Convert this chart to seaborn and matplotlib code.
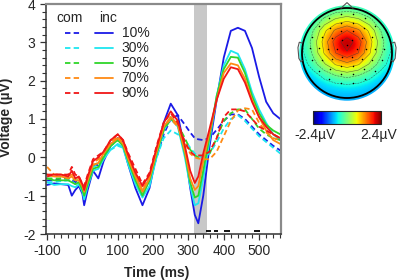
import numpy as np
import pandas as pd
import matplotlib
matplotlib.use("Agg")
import matplotlib.pyplot as plt
import seaborn as sns
from matplotlib.lines import Line2D
from matplotlib.patches import Circle, Polygon
from matplotlib.ticker import MultipleLocator
from matplotlib.colors import Normalize
from matplotlib.cm import ScalarMappable

# ---------------- data ----------------
time_ms = [-100, -80, -60, -40, -30, -20, -10, 0, 5, 15, 30, 45, 60, 80, 100, 115,
           130, 150, 170, 190, 210, 230, 250, 270, 290, 305, 318, 328, 342, 360,
           380, 400, 420, 440, 460, 480, 500, 520, 540, 560]
levels = ["10%", "30%", "50%", "70%", "90%"]

inc_10 = [-0.72, -0.68, -0.7, -0.72, -1.0, -0.85, -0.75, -0.95, -1.25, -0.85, -0.35, -0.55,
          -0.1, 0.3, 0.5, 0.3, -0.2, -0.8, -1.25, -0.8, 0.1, 0.9, 1.4, 1.1,
          0.2, -0.8, -1.5, -1.72, -1.0, 0.3, 1.5, 2.6, 3.3, 3.38, 3.3, 2.85,
          2.1, 1.45, 1.15, 1.0]
inc_30 = [-0.65, -0.72, -0.7, -0.7, -0.75, -0.78, -0.7, -0.9, -1.1, -0.75, -0.35, -0.3,
          -0.05, 0.2, 0.35, 0.25, -0.2, -0.7, -1.05, -0.75, 0.0, 0.7, 1.0, 0.8,
          0.0, -0.75, -1.25, -1.2, -0.55, 0.45, 1.6, 2.4, 2.78, 2.7, 2.3, 1.7,
          1.25, 0.9, 0.6, 0.45]
inc_50 = [-0.55, -0.6, -0.6, -0.6, -0.65, -0.7, -0.65, -0.85, -1.0, -0.7, -0.3, -0.25,
          0.0, 0.3, 0.45, 0.3, -0.1, -0.6, -1.0, -0.6, 0.1, 0.75, 1.05, 0.85,
          0.1, -0.65, -1.05, -1.0, -0.35, 0.55, 1.6, 2.3, 2.62, 2.6, 2.2, 1.6,
          1.15, 0.85, 0.7, 0.6]
inc_70 = [-0.45, -0.5, -0.5, -0.55, -0.5, -0.6, -0.6, -0.75, -0.9, -0.6, -0.2, -0.15,
          0.1, 0.35, 0.5, 0.35, -0.05, -0.5, -0.9, -0.55, 0.15, 0.8, 1.05, 0.85,
          0.15, -0.55, -0.85, -0.75, -0.1, 0.65, 1.5, 2.2, 2.45, 2.4, 2.05, 1.5,
          1.05, 0.7, 0.45, 0.35]
inc_90 = [-0.45, -0.45, -0.45, -0.5, -0.35, -0.55, -0.5, -0.7, -0.85, -0.5, -0.1, 0.0,
          0.15, 0.45, 0.6, 0.45, 0.05, -0.4, -0.75, -0.45, 0.25, 0.9, 1.2, 0.95,
          0.3, -0.35, -0.67, -0.5, 0.1, 0.75, 1.5, 2.05, 2.35, 2.3, 1.95, 1.45,
          1.05, 0.8, 0.6, 0.5]

com_10 = [-0.6, -0.6, -0.55, -0.55, -0.6, -0.65, -0.6, -0.8, -0.95, -0.6, -0.2, -0.2,
          0.05, 0.35, 0.5, 0.4, 0.0, -0.5, -0.9, -0.6, 0.0, 0.6, 1.0, 1.1,
          0.85, 0.65, 0.5, 0.47, 0.45, 0.5, 0.72, 0.95, 1.12, 1.12, 1.0, 0.8,
          0.6, 0.45, 0.3, 0.18]
com_30 = [-0.65, -0.65, -0.62, -0.6, -0.62, -0.7, -0.65, -0.8, -0.9, -0.65, -0.25, -0.2,
          0.0, 0.2, 0.3, 0.25, -0.1, -0.55, -0.95, -0.6, 0.0, 0.5, 0.7, 0.6,
          0.45, 0.25, 0.1, 0.03, 0.0, 0.1, 0.4, 0.75, 1.0, 1.1, 0.95, 0.75,
          0.55, 0.4, 0.25, 0.1]
com_50 = [-0.55, -0.55, -0.55, -0.55, -0.55, -0.6, -0.6, -0.75, -0.85, -0.55, -0.2, -0.15,
          0.05, 0.3, 0.45, 0.35, 0.0, -0.5, -0.9, -0.55, 0.1, 0.7, 1.0, 0.85,
          0.5, 0.2, 0.05, 0.0, 0.0, 0.1, 0.5, 0.95, 1.15, 1.25, 1.25, 1.0,
          0.75, 0.6, 0.5, 0.45]
com_70 = [-0.25, -0.45, -0.45, -0.5, -0.45, -0.5, -0.55, -0.7, -0.8, -0.5, -0.15, -0.05,
          0.1, 0.4, 0.55, 0.4, 0.05, -0.45, -0.85, -0.5, 0.2, 0.8, 1.0, 0.8,
          0.4, 0.1, 0.0, -0.03, -0.05, -0.05, 0.15, 0.55, 0.95, 1.22, 1.28, 1.25,
          0.9, 0.65, 0.5, 0.45]
com_90 = [-0.5, -0.45, -0.45, -0.45, -0.25, -0.45, -0.5, -0.7, -0.75, -0.45, -0.05, 0.05,
          0.15, 0.45, 0.6, 0.45, 0.1, -0.3, -0.7, -0.4, 0.3, 0.9, 1.15, 0.9,
          0.4, 0.15, 0.05, 0.05, 0.05, 0.15, 0.5, 1.05, 1.25, 1.25, 1.2, 1.0,
          0.8, 0.7, 0.6, 0.5]

# significant time windows (ms) and analysis window
sig_start = [351, 371, 400, 485]
sig_end = [365, 385, 417, 502]
win_start, win_end = 315, 352

# scalp map values (uV) on a 9x9 grid, top row = front of head
topo_values = [
    [-1.1, -0.9, -0.65, -0.45, -0.4, -0.45, -0.65, -0.9, -1.1],
    [-0.9, -0.5, 0.0, 0.4, 0.6, 0.4, 0.0, -0.5, -0.9],
    [-0.7, -0.1, 0.7, 1.35, 1.7, 1.35, 0.7, -0.1, -0.7],
    [-0.6, 0.1, 1.0, 1.95, 2.4, 1.95, 1.0, 0.1, -0.6],
    [-0.65, 0.0, 0.85, 1.7, 2.1, 1.7, 0.85, 0.0, -0.65],
    [-0.8, -0.3, 0.3, 0.85, 1.1, 0.85, 0.3, -0.3, -0.8],
    [-1.0, -0.75, -0.4, -0.1, 0.05, -0.1, -0.4, -0.75, -1.0],
    [-1.15, -1.0, -0.85, -0.75, -0.7, -0.75, -0.85, -1.0, -1.15],
    [-1.2, -1.15, -1.05, -1.0, -1.0, -1.0, -1.05, -1.15, -1.2],
]
topo_min, topo_max = -2.4, 2.4

colors = {"10%": "#1a1ae6", "30%": "#1ee6f0", "50%": "#2fd52a",
          "70%": "#ff8a14", "90%": "#f01616"}

series = {("com", "10%"): com_10, ("com", "30%"): com_30, ("com", "50%"): com_50,
          ("com", "70%"): com_70, ("com", "90%"): com_90,
          ("inc", "10%"): inc_10, ("inc", "30%"): inc_30, ("inc", "50%"): inc_50,
          ("inc", "70%"): inc_70, ("inc", "90%"): inc_90}
rows = []
for (cond, lev), vals in series.items():
    for t, v in zip(time_ms, vals):
        rows.append({"time": t, "voltage": v, "cond": cond, "level": lev})
df = pd.DataFrame(rows)

# ---------------- style ----------------
sns.set_style("ticks")
plt.rcParams["font.family"] = ["Liberation Sans", "DejaVu Sans"]
plt.rcParams["axes.unicode_minus"] = False

W, H = 397, 280
fig = plt.figure(figsize=(W / 100, H / 100), dpi=100)
ax = fig.add_axes([46 / W, 46 / H, 235 / W, 230 / H])

ax.axvspan(win_start, win_end, color="#c8c8c8", lw=0, zorder=0)
sns.lineplot(data=df, x="time", y="voltage", hue="level", style="cond",
             hue_order=levels, style_order=["com", "inc"], palette=colors,
             dashes={"com": (3.0, 1.8), "inc": ""}, estimator=None, sort=False,
             legend=False, linewidth=1.3, ax=ax)
ax.hlines([-1.92] * len(sig_start), sig_start, sig_end, color="black", lw=1.3)

ax.set_xlim(-103, 562)
ax.set_ylim(-2, 4)
ax.xaxis.set_major_locator(MultipleLocator(100))
ax.xaxis.set_minor_locator(MultipleLocator(20))
ax.yaxis.set_major_locator(MultipleLocator(1))
ax.yaxis.set_minor_locator(MultipleLocator(0.2))
ax.tick_params(which="major", direction="out", length=4.5, width=0.9,
               labelsize=10, color="#333333", pad=3)
ax.tick_params(which="minor", direction="out", length=2.8, width=0.8, color="#333333")

for s in ["left", "bottom"]:
    ax.spines[s].set_color("#333333")
    ax.spines[s].set_linewidth(1.1)
for s in ["top", "right"]:
    ax.spines[s].set_visible(True)
    ax.spines[s].set_color("#8a8a8a")
    ax.spines[s].set_linewidth(1.6)

ax.set_xlabel("Time (ms)", fontsize=10, fontweight="bold")
ax.set_ylabel("Voltage (\u00b5V)", fontsize=10, fontweight="bold")
ax.xaxis.set_label_coords(0.47, -0.14)
ax.yaxis.set_label_coords(-0.14, 0.507)

# manual two-column legend
ax.text(0.102, 0.94, "com", transform=ax.transAxes, ha="center", va="center", fontsize=10)
ax.text(0.262, 0.94, "inc", transform=ax.transAxes, ha="center", va="center", fontsize=10)
row_y = [0.874, 0.809, 0.743, 0.678, 0.613]
for lev, yy in zip(levels, row_y):
    ax.add_line(Line2D([0.081, 0.147], [yy, yy], transform=ax.transAxes,
                       color=colors[lev], lw=1.3, dashes=(3.0, 1.8)))
    ax.add_line(Line2D([0.209, 0.283], [yy, yy], transform=ax.transAxes,
                       color=colors[lev], lw=1.3))
    ax.text(0.322, yy, lev, transform=ax.transAxes, ha="left", va="center", fontsize=10)

# ---------------- scalp map ----------------
tax = fig.add_axes([293 / W, (H - 104.75) / H, 108 / W, 103.5 / H])
tax.set_xlim(-1.2, 1.2)
tax.set_ylim(-1.15, 1.15)
tax.axis("off")
grid = np.array(topo_values)
im = tax.imshow(grid, cmap="jet", vmin=topo_min, vmax=topo_max,
                extent=[-1.125, 1.125, -1.125, 1.125], interpolation="bicubic",
                origin="upper", zorder=1)
disc = Circle((0, 0), 1.06, transform=tax.transData)
im.set_clip_path(disc)
gx = np.linspace(-1, 1, 9)
cs = tax.contour(gx, gx[::-1], grid, levels=np.arange(-1.0, 2.6, 0.45),
                 colors="#3a3a3a", linewidths=0.4, alpha=0.7, zorder=2)
cs.set_clip_path(Circle((0, 0), 1.0, transform=tax.transData))
# electrodes
ex, ey = [0.0], [0.18]
for r, n in [(0.22, 6), (0.42, 10), (0.62, 14), (0.82, 18)]:
    for k in range(n):
        a = 2 * np.pi * k / n
        ex.append(r * np.cos(a))
        ey.append(0.1 + r * np.sin(a) * 0.95)
tax.scatter(ex, ey, s=1.2, color="black", zorder=3, lw=0)
tax.add_patch(Circle((0, 0), 1.0, fill=False, ec="black", lw=1.3, zorder=4))
tax.add_patch(Polygon([[-0.14, 0.99], [0, 1.12], [0.14, 0.99]], closed=False,
                      fill=False, ec="#555555", lw=0.8, zorder=4))
for sgn in (-1, 1):
    tax.add_patch(Polygon([[sgn * 0.99, 0.22], [sgn * 1.06, 0.24], [sgn * 1.09, 0.12],
                           [sgn * 1.07, -0.12], [sgn * 1.02, -0.2], [sgn * 0.99, -0.16]],
                          closed=False, fill=False, ec="#555555", lw=0.8, zorder=4))

cax = fig.add_axes([313 / W, (H - 124) / H, 68 / W, 13 / H])
cb = fig.colorbar(ScalarMappable(norm=Normalize(topo_min, topo_max), cmap="jet"),
                  cax=cax, orientation="horizontal")
cb.set_ticks([])
cb.outline.set_linewidth(0.8)
fig.text(315 / W, 1 - 135 / H, "-2.4\u00b5V", ha="center", va="center", fontsize=10)
fig.text(379 / W, 1 - 135 / H, "2.4\u00b5V", ha="center", va="center", fontsize=10)

fig.savefig("out.png", dpi=100)
